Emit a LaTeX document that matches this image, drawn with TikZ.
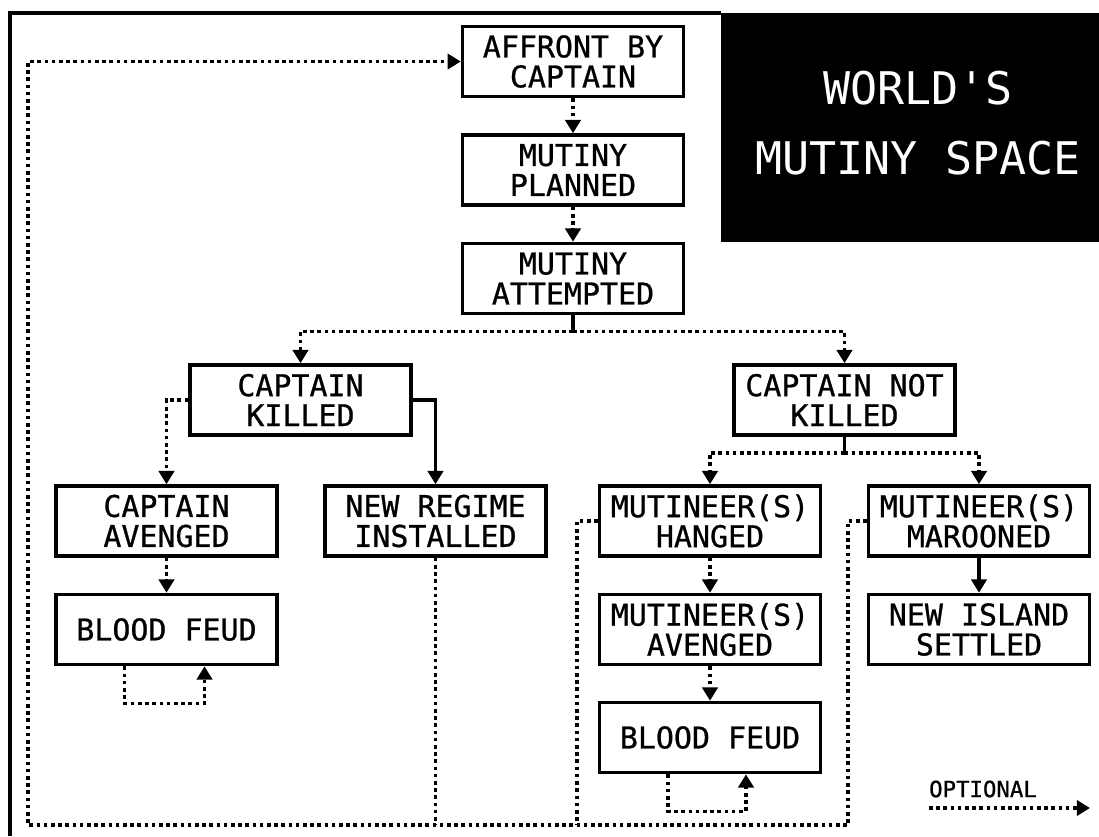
\documentclass[tikz,border=0pt]{standalone}
\usepackage{fontspec}
\newfontfamily\plotter[FakeBold=0.8]{DejaVu Sans Mono}
\newfontfamily\plotterthin{DejaVu Sans Mono}
\usetikzlibrary{arrows.meta}

\begin{document}
\begin{tikzpicture}[x=0.025cm, y=-0.025cm,
    box/.style={draw, line width=0.09cm, minimum width=5.52cm, minimum height=1.75cm,
      inner sep=0pt, align=center, font=\plotter\fontsize{21.3}{21.3}\selectfont},
    plain/.style={line width=0.09cm},
    dots/.style={plain, dash pattern=on 0.09cm off 0.09cm},
    link/.style={plain, -{Triangle[length=0.33cm,width=0.38cm]}},
    opt/.style={dots, -{Triangle[length=0.33cm,width=0.38cm]}}]
    \useasboundingbox (0,0) rectangle (1099,836);

    % frame and title block
    \draw[line width=0.1cm] (10,836) -- (10,13) -- (721,13);
    \fill (721,13) rectangle (1099,242);
    \draw (918,123)node[white, align=center, font=\plotterthin\fontsize{32}{49.6}\selectfont](title){WORLD'S\\MUTINY SPACE};

    % main line
    \draw (573,61.5)node[box](af){AFFRONT BY\\CAPTAIN};
    \draw (573,170)node[box](pl){MUTINY\\PLANNED};
    \draw (573,278.5)node[box](at){MUTINY\\ATTEMPTED};

    \draw (300.5,400)node[box](ck){CAPTAIN\\KILLED};
    \draw (844.5,400)node[box](cn){CAPTAIN NOT\\KILLED};

    \draw (166.5,521)node[box](ca){CAPTAIN\\AVENGED};
    \draw (435.5,521)node[box](nr){NEW REGIME\\INSTALLED};
    \draw (710,521)node[box](mh){MUTINEER(S)\\HANGED};
    \draw (979,521)node[box](mm){MUTINEER(S)\\MAROONED};

    \draw (166.5,629.5)node[box](bfa){BLOOD FEUD};
    \draw (710,629.5)node[box](ma){MUTINEER(S)\\AVENGED};
    \draw (979,629.5)node[box](ns){NEW ISLAND\\SETTLED};

    \draw (710,737.5)node[box](bfb){BLOOD FEUD};

    % connectors
    \draw[opt] (af) -- (pl);
    \draw[opt] (pl) -- (at);

    \draw[plain] (at.south) -- ++(0,16) coordinate(ja);
    \draw[opt] (ja) -| (ck.north);
    \draw[opt] (ja) -| (cn.north);

    \draw[opt] (ck.west) -| (ca.north);
    \draw[link] (ck.east) -| (nr.north);
    \draw[opt] (ca) -- (bfa);
    \draw[opt] (bfa.south) ++(-42,0) -- ++(0,37) -- ++(80,0) -- ++(0,-37);

    \draw[plain] (cn.south) -- ++(0,16) coordinate(jb);
    \draw[opt] (jb) -| (mh.north);
    \draw[opt] (jb) -| (mm.north);

    \draw[opt] (mh) -- (ma);
    \draw[opt] (ma) -- (bfb);
    \draw[opt] (bfb.south) ++(-42,0) -- ++(0,37) -- ++(78,0) -- ++(0,-37);
    \draw[link] (mm) -- (ns);

    % way back to the start
    \coordinate (bl) at (28,825);
    \coordinate (br) at (848,825);
    \draw[opt] (mm.west) -| (br) -- (bl) |- (af.west);
    \draw[dots] (mh.west) -| (577,825);
    \draw[dots] (nr.south) -- (nr.south |- bl);

    % legend
    \draw (983,789)node[font=\plotter\fontsize{15.9}{16}\selectfont](key){OPTIONAL};
    \draw[opt] (929,808) -- (1090,808);
\end{tikzpicture}
\end{document}
